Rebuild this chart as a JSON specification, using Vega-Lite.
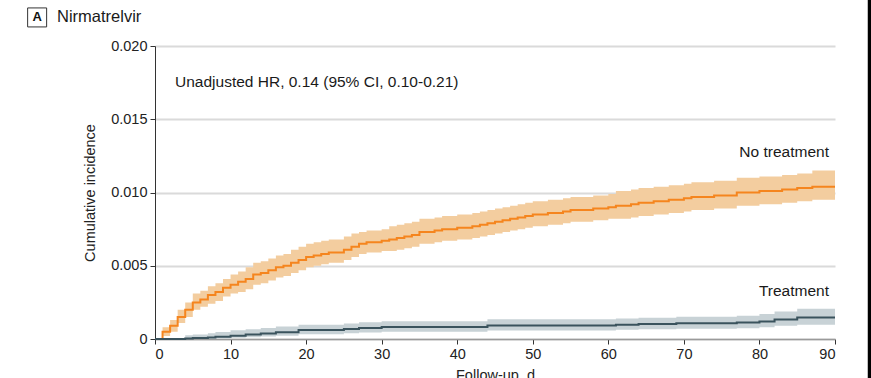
{
  "$schema": "https://vega.github.io/schema/vega-lite/v6.json",
  "autosize": {"type": "none"},
  "width": 680,
  "height": 293,
  "padding": {"left": 155, "top": 46, "right": 36, "bottom": 39},
  "background": "white",
  "config": {
    "view": {"stroke": null},
    "font": "Liberation Sans",
    "text": {"font": "Liberation Sans"}
  },
  "datasets": {
    "curves": [
      {"group": "No treatment", "day": 0, "est": 0, "lo": 0, "hi": 0},
      {"group": "No treatment", "day": 1, "est": 0.0005, "lo": 0.0002, "hi": 0.0008},
      {"group": "No treatment", "day": 2, "est": 0.0009, "lo": 0.0005, "hi": 0.0013},
      {"group": "No treatment", "day": 3, "est": 0.0015, "lo": 0.0011, "hi": 0.0020},
      {"group": "No treatment", "day": 4, "est": 0.0020, "lo": 0.0015, "hi": 0.0025},
      {"group": "No treatment", "day": 5, "est": 0.0025, "lo": 0.0020, "hi": 0.0031},
      {"group": "No treatment", "day": 6, "est": 0.0027, "lo": 0.0022, "hi": 0.0033},
      {"group": "No treatment", "day": 7, "est": 0.0030, "lo": 0.0024, "hi": 0.0036},
      {"group": "No treatment", "day": 8, "est": 0.0032, "lo": 0.0026, "hi": 0.0038},
      {"group": "No treatment", "day": 9, "est": 0.0035, "lo": 0.0029, "hi": 0.0041},
      {"group": "No treatment", "day": 10, "est": 0.0037, "lo": 0.0031, "hi": 0.0044},
      {"group": "No treatment", "day": 11, "est": 0.0039, "lo": 0.0032, "hi": 0.0046},
      {"group": "No treatment", "day": 12, "est": 0.0041, "lo": 0.0034, "hi": 0.0049},
      {"group": "No treatment", "day": 13, "est": 0.0044, "lo": 0.0037, "hi": 0.0052},
      {"group": "No treatment", "day": 14, "est": 0.0045, "lo": 0.0038, "hi": 0.0053},
      {"group": "No treatment", "day": 15, "est": 0.0047, "lo": 0.0040, "hi": 0.0055},
      {"group": "No treatment", "day": 16, "est": 0.0049, "lo": 0.0042, "hi": 0.0057},
      {"group": "No treatment", "day": 17, "est": 0.0050, "lo": 0.0043, "hi": 0.0058},
      {"group": "No treatment", "day": 18, "est": 0.0052, "lo": 0.0045, "hi": 0.0061},
      {"group": "No treatment", "day": 19, "est": 0.0054, "lo": 0.0047, "hi": 0.0063},
      {"group": "No treatment", "day": 20, "est": 0.0056, "lo": 0.0049, "hi": 0.0065},
      {"group": "No treatment", "day": 21, "est": 0.0057, "lo": 0.0050, "hi": 0.0066},
      {"group": "No treatment", "day": 22, "est": 0.0058, "lo": 0.0051, "hi": 0.0067},
      {"group": "No treatment", "day": 23, "est": 0.0059, "lo": 0.0052, "hi": 0.0068},
      {"group": "No treatment", "day": 24, "est": 0.0059, "lo": 0.0052, "hi": 0.0068},
      {"group": "No treatment", "day": 25, "est": 0.0061, "lo": 0.0054, "hi": 0.0070},
      {"group": "No treatment", "day": 26, "est": 0.0063, "lo": 0.0056, "hi": 0.0072},
      {"group": "No treatment", "day": 27, "est": 0.0065, "lo": 0.0058, "hi": 0.0073},
      {"group": "No treatment", "day": 28, "est": 0.0066, "lo": 0.0059, "hi": 0.0074},
      {"group": "No treatment", "day": 29, "est": 0.0066, "lo": 0.0059, "hi": 0.0074},
      {"group": "No treatment", "day": 30, "est": 0.0067, "lo": 0.0060, "hi": 0.0075},
      {"group": "No treatment", "day": 31, "est": 0.0068, "lo": 0.0060, "hi": 0.0077},
      {"group": "No treatment", "day": 32, "est": 0.0069, "lo": 0.0061, "hi": 0.0078},
      {"group": "No treatment", "day": 33, "est": 0.0070, "lo": 0.0062, "hi": 0.0079},
      {"group": "No treatment", "day": 34, "est": 0.0071, "lo": 0.0063, "hi": 0.0080},
      {"group": "No treatment", "day": 35, "est": 0.0073, "lo": 0.0065, "hi": 0.0082},
      {"group": "No treatment", "day": 36, "est": 0.0073, "lo": 0.0065, "hi": 0.0082},
      {"group": "No treatment", "day": 37, "est": 0.0074, "lo": 0.0066, "hi": 0.0083},
      {"group": "No treatment", "day": 38, "est": 0.0075, "lo": 0.0067, "hi": 0.0084},
      {"group": "No treatment", "day": 39, "est": 0.0075, "lo": 0.0067, "hi": 0.0084},
      {"group": "No treatment", "day": 40, "est": 0.0076, "lo": 0.0068, "hi": 0.0085},
      {"group": "No treatment", "day": 41, "est": 0.0076, "lo": 0.0068, "hi": 0.0085},
      {"group": "No treatment", "day": 42, "est": 0.0077, "lo": 0.0069, "hi": 0.0086},
      {"group": "No treatment", "day": 43, "est": 0.0078, "lo": 0.0070, "hi": 0.0087},
      {"group": "No treatment", "day": 44, "est": 0.0079, "lo": 0.0071, "hi": 0.0088},
      {"group": "No treatment", "day": 45, "est": 0.0080, "lo": 0.0072, "hi": 0.0089},
      {"group": "No treatment", "day": 46, "est": 0.0081, "lo": 0.0073, "hi": 0.0090},
      {"group": "No treatment", "day": 47, "est": 0.0082, "lo": 0.0074, "hi": 0.0091},
      {"group": "No treatment", "day": 48, "est": 0.0083, "lo": 0.0075, "hi": 0.0092},
      {"group": "No treatment", "day": 49, "est": 0.0084, "lo": 0.0076, "hi": 0.0093},
      {"group": "No treatment", "day": 50, "est": 0.0085, "lo": 0.0077, "hi": 0.0094},
      {"group": "No treatment", "day": 51, "est": 0.0085, "lo": 0.0077, "hi": 0.0094},
      {"group": "No treatment", "day": 52, "est": 0.0086, "lo": 0.0078, "hi": 0.0095},
      {"group": "No treatment", "day": 53, "est": 0.0086, "lo": 0.0078, "hi": 0.0095},
      {"group": "No treatment", "day": 54, "est": 0.0087, "lo": 0.0079, "hi": 0.0096},
      {"group": "No treatment", "day": 55, "est": 0.0088, "lo": 0.0080, "hi": 0.0097},
      {"group": "No treatment", "day": 56, "est": 0.0088, "lo": 0.0080, "hi": 0.0097},
      {"group": "No treatment", "day": 57, "est": 0.0088, "lo": 0.0080, "hi": 0.0097},
      {"group": "No treatment", "day": 58, "est": 0.0089, "lo": 0.0081, "hi": 0.0098},
      {"group": "No treatment", "day": 59, "est": 0.0089, "lo": 0.0081, "hi": 0.0098},
      {"group": "No treatment", "day": 60, "est": 0.0090, "lo": 0.0082, "hi": 0.0099},
      {"group": "No treatment", "day": 61, "est": 0.0091, "lo": 0.0082, "hi": 0.0101},
      {"group": "No treatment", "day": 62, "est": 0.0091, "lo": 0.0082, "hi": 0.0101},
      {"group": "No treatment", "day": 63, "est": 0.0092, "lo": 0.0083, "hi": 0.0102},
      {"group": "No treatment", "day": 64, "est": 0.0093, "lo": 0.0084, "hi": 0.0103},
      {"group": "No treatment", "day": 65, "est": 0.0093, "lo": 0.0084, "hi": 0.0103},
      {"group": "No treatment", "day": 66, "est": 0.0094, "lo": 0.0085, "hi": 0.0104},
      {"group": "No treatment", "day": 67, "est": 0.0094, "lo": 0.0085, "hi": 0.0104},
      {"group": "No treatment", "day": 68, "est": 0.0095, "lo": 0.0086, "hi": 0.0105},
      {"group": "No treatment", "day": 69, "est": 0.0095, "lo": 0.0086, "hi": 0.0105},
      {"group": "No treatment", "day": 70, "est": 0.0096, "lo": 0.0087, "hi": 0.0106},
      {"group": "No treatment", "day": 71, "est": 0.0097, "lo": 0.0088, "hi": 0.0107},
      {"group": "No treatment", "day": 72, "est": 0.0097, "lo": 0.0088, "hi": 0.0107},
      {"group": "No treatment", "day": 73, "est": 0.0097, "lo": 0.0088, "hi": 0.0107},
      {"group": "No treatment", "day": 74, "est": 0.0098, "lo": 0.0089, "hi": 0.0108},
      {"group": "No treatment", "day": 75, "est": 0.0098, "lo": 0.0089, "hi": 0.0108},
      {"group": "No treatment", "day": 76, "est": 0.0098, "lo": 0.0089, "hi": 0.0108},
      {"group": "No treatment", "day": 77, "est": 0.0100, "lo": 0.0091, "hi": 0.0110},
      {"group": "No treatment", "day": 78, "est": 0.0100, "lo": 0.0091, "hi": 0.0110},
      {"group": "No treatment", "day": 79, "est": 0.0100, "lo": 0.0091, "hi": 0.0110},
      {"group": "No treatment", "day": 80, "est": 0.0101, "lo": 0.0092, "hi": 0.0111},
      {"group": "No treatment", "day": 81, "est": 0.0101, "lo": 0.0092, "hi": 0.0111},
      {"group": "No treatment", "day": 82, "est": 0.0101, "lo": 0.0092, "hi": 0.0111},
      {"group": "No treatment", "day": 83, "est": 0.0102, "lo": 0.0093, "hi": 0.0112},
      {"group": "No treatment", "day": 84, "est": 0.0102, "lo": 0.0093, "hi": 0.0112},
      {"group": "No treatment", "day": 85, "est": 0.0103, "lo": 0.0094, "hi": 0.0113},
      {"group": "No treatment", "day": 86, "est": 0.0103, "lo": 0.0094, "hi": 0.0113},
      {"group": "No treatment", "day": 87, "est": 0.0104, "lo": 0.0095, "hi": 0.0115},
      {"group": "No treatment", "day": 88, "est": 0.0104, "lo": 0.0095, "hi": 0.0115},
      {"group": "No treatment", "day": 89, "est": 0.0104, "lo": 0.0095, "hi": 0.0115},
      {"group": "No treatment", "day": 90, "est": 0.0104, "lo": 0.0095, "hi": 0.0115},
      {"group": "Treatment", "day": 0, "est": 0, "lo": 0, "hi": 0},
      {"group": "Treatment", "day": 4, "est": 0.00003, "lo": 0, "hi": 0.00025},
      {"group": "Treatment", "day": 5, "est": 0.00006, "lo": 0, "hi": 0.0003},
      {"group": "Treatment", "day": 7, "est": 0.0001, "lo": 0.00002, "hi": 0.0004},
      {"group": "Treatment", "day": 8, "est": 0.00016, "lo": 0.00004, "hi": 0.00048},
      {"group": "Treatment", "day": 10, "est": 0.00023, "lo": 0.00008, "hi": 0.0006},
      {"group": "Treatment", "day": 12, "est": 0.0003, "lo": 0.00012, "hi": 0.00066},
      {"group": "Treatment", "day": 14, "est": 0.00038, "lo": 0.00017, "hi": 0.00075},
      {"group": "Treatment", "day": 16, "est": 0.00046, "lo": 0.00022, "hi": 0.00085},
      {"group": "Treatment", "day": 19, "est": 0.00061, "lo": 0.00033, "hi": 0.00098},
      {"group": "Treatment", "day": 25, "est": 0.00068, "lo": 0.00039, "hi": 0.00106},
      {"group": "Treatment", "day": 27, "est": 0.00075, "lo": 0.00045, "hi": 0.00114},
      {"group": "Treatment", "day": 30, "est": 0.00082, "lo": 0.0005, "hi": 0.00122},
      {"group": "Treatment", "day": 44, "est": 0.00092, "lo": 0.00058, "hi": 0.00134},
      {"group": "Treatment", "day": 61, "est": 0.00098, "lo": 0.00063, "hi": 0.0014},
      {"group": "Treatment", "day": 64, "est": 0.00102, "lo": 0.00066, "hi": 0.00145},
      {"group": "Treatment", "day": 69, "est": 0.00108, "lo": 0.0007, "hi": 0.00152},
      {"group": "Treatment", "day": 77, "est": 0.00113, "lo": 0.00074, "hi": 0.00158},
      {"group": "Treatment", "day": 80, "est": 0.0012, "lo": 0.0008, "hi": 0.0017},
      {"group": "Treatment", "day": 82, "est": 0.00133, "lo": 0.0009, "hi": 0.00188},
      {"group": "Treatment", "day": 85, "est": 0.00146, "lo": 0.00097, "hi": 0.00206},
      {"group": "Treatment", "day": 90, "est": 0.00146, "lo": 0.00097, "hi": 0.00206}
    ],
    "leftNotes": [
      {"x": 2.65, "y": 0.01754, "label": "Unadjusted HR, 0.14 (95% CI, 0.10-0.21)"}
    ],
    "titleNote": [
      {"x": -12.97, "y": 0.02198, "label": "Nirmatrelvir"}
    ],
    "rightNotes": [
      {"x": 89.2, "y": 0.01276, "label": "No treatment"},
      {"x": 89.2, "y": 0.00328, "label": "Treatment"}
    ],
    "box": [
      {"x": -15.6, "y": 0.02195, "label": "A"}
    ],
    "edge": [
      {"x": 94.6, "y": 0.0232, "y2": -0.0027}
    ]
  },
  "layer": [
    {
      "data": {"name": "curves"},
      "mark": {"type": "area", "interpolate": "step-after", "opacity": 1},
      "encoding": {
        "x": {
          "field": "day", "type": "quantitative",
          "scale": {"domain": [0, 90], "nice": false},
          "axis": {
            "title": "Follow-up, d",
            "values": [0, 10, 20, 30, 40, 50, 60, 70, 80, 90],
            "grid": false,
            "domainColor": "#9a9a9a", "domainWidth": 1.5,
            "tickColor": "#333333", "tickSize": 5, "tickWidth": 1,
            "labelFontSize": 14.5, "labelColor": "#222222", "labelPadding": 3,
            "titleFontSize": 14.5, "titleFontWeight": "normal", "titleColor": "#222222", "titlePadding": 8
          }
        },
        "y": {
          "field": "lo", "type": "quantitative",
          "scale": {"domain": [0, 0.02], "nice": false},
          "axis": {
            "title": "Cumulative incidence",
            "values": [0, 0.005, 0.01, 0.015, 0.02],
            "labelExpr": "datum.value == 0 ? '0' : format(datum.value, '.3f')",
            "grid": true, "gridColor": "#dadada", "gridWidth": 2,
            "domainColor": "#333333", "domainWidth": 1,
            "tickColor": "#333333", "tickSize": 5,
            "labelFontSize": 14.5, "labelColor": "#222222", "labelPadding": 3,
            "titleFontSize": 14.5, "titleFontWeight": "normal", "titleColor": "#222222", "titlePadding": 13
          }
        },
        "y2": {"field": "hi"},
        "fill": {
          "field": "group", "type": "nominal",
          "scale": {"domain": ["No treatment", "Treatment"], "range": ["#f3cd9f", "#c8d2d6"]},
          "legend": null
        }
      }
    },
    {
      "data": {"name": "curves"},
      "mark": {"type": "line", "interpolate": "step-after", "strokeWidth": 2},
      "encoding": {
        "x": {"field": "day", "type": "quantitative"},
        "y": {"field": "est", "type": "quantitative"},
        "stroke": {
          "field": "group", "type": "nominal",
          "scale": {"domain": ["No treatment", "Treatment"], "range": ["#f5851e", "#3a535d"]},
          "legend": null
        }
      }
    },
    {
      "data": {"name": "leftNotes"},
      "mark": {"type": "text", "align": "left", "baseline": "middle", "fontSize": 15.5, "color": "#1a1a1a"},
      "encoding": {
        "x": {"field": "x", "type": "quantitative"},
        "y": {"field": "y", "type": "quantitative"},
        "text": {"field": "label"}
      }
    },
    {
      "data": {"name": "titleNote"},
      "mark": {"type": "text", "align": "left", "baseline": "middle", "fontSize": 16.5, "color": "#1a1a1a"},
      "encoding": {
        "x": {"field": "x", "type": "quantitative"},
        "y": {"field": "y", "type": "quantitative"},
        "text": {"field": "label"}
      }
    },
    {
      "data": {"name": "rightNotes"},
      "mark": {"type": "text", "align": "right", "baseline": "middle", "fontSize": 15.5, "color": "#1a1a1a"},
      "encoding": {
        "x": {"field": "x", "type": "quantitative"},
        "y": {"field": "y", "type": "quantitative"},
        "text": {"field": "label"}
      }
    },
    {
      "data": {"name": "box"},
      "mark": {"type": "point", "shape": "square", "size": 361, "filled": false, "stroke": "#333333", "strokeWidth": 1, "opacity": 1},
      "encoding": {
        "x": {"field": "x", "type": "quantitative"},
        "y": {"field": "y", "type": "quantitative"}
      }
    },
    {
      "data": {"name": "box"},
      "mark": {"type": "text", "align": "center", "baseline": "middle", "fontSize": 13, "fontWeight": "bold", "color": "#111111"},
      "encoding": {
        "x": {"field": "x", "type": "quantitative"},
        "y": {"field": "y", "type": "quantitative"},
        "text": {"field": "label"}
      }
    },
    {
      "data": {"name": "edge"},
      "mark": {"type": "rule", "strokeWidth": 4, "color": "#000000"},
      "encoding": {
        "x": {"field": "x", "type": "quantitative"},
        "y": {"field": "y", "type": "quantitative"},
        "y2": {"field": "y2"}
      }
    }
  ]
}
